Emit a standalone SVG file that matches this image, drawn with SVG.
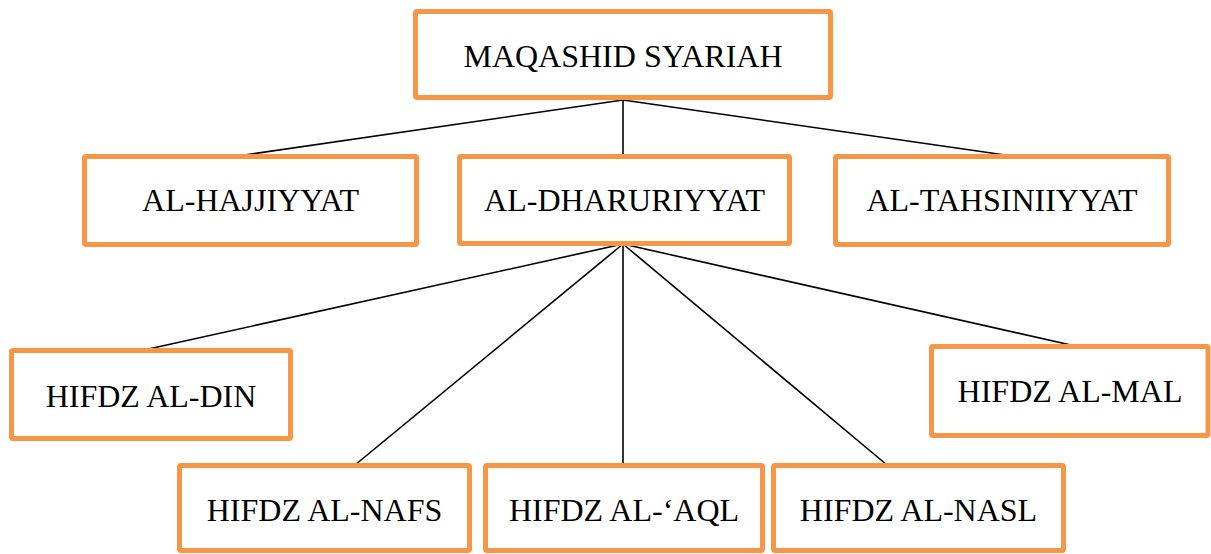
<svg xmlns="http://www.w3.org/2000/svg" width="1211" height="554" viewBox="0 0 1211 554">
<style>
.box{fill:#fff;stroke:#F79646;stroke-width:5}
.lbl{font-family:"Liberation Serif","Times New Roman",serif;font-size:32px;fill:#000;text-anchor:middle}
.con{stroke:#000;stroke-width:1.6;fill:none}
</style>
<rect width="1211" height="554" fill="#fff"/>
<g id="connectors">
<line class="con" x1="623" y1="100" x2="238" y2="156"/>
<line class="con" x1="623" y1="100" x2="623" y2="155"/>
<line class="con" x1="623" y1="100" x2="1012" y2="156"/>
<line class="con" x1="623" y1="244" x2="144" y2="350"/>
<line class="con" x1="623" y1="244" x2="355" y2="465"/>
<line class="con" x1="623" y1="244" x2="623" y2="465"/>
<line class="con" x1="623" y1="244" x2="887" y2="465"/>
<line class="con" x1="623" y1="244" x2="1084" y2="348"/>
</g>
<g id="maqashid">
<rect class="box" x="415.5" y="11.5" width="415" height="86" rx="1.5"/>
<text class="lbl" x="623" y="67">MAQASHID SYARIAH</text>
</g>
<g id="hajjiyyat">
<rect class="box" x="84.5" y="156.5" width="332" height="88" rx="1.5"/>
<text class="lbl" x="250.5" y="211">AL-HAJJIYYAT</text>
</g>
<g id="dharuriyyat">
<rect class="box" x="459.5" y="156.5" width="330" height="87" rx="1.5"/>
<text class="lbl" x="624.5" y="211">AL-DHARURIYYAT</text>
</g>
<g id="tahsiniiyyat">
<rect class="box" x="835.5" y="156.5" width="333" height="88" rx="1.5"/>
<text class="lbl" x="1002" y="211">AL-TAHSINIIYYAT</text>
</g>
<g id="din">
<rect class="box" x="11.5" y="350.5" width="279" height="88" rx="1.5"/>
<text class="lbl" x="151" y="407">HIFDZ AL-DIN</text>
</g>
<g id="mal">
<rect class="box" x="931.5" y="346.5" width="276.5" height="89" rx="1.5"/>
<text class="lbl" x="1070" y="402">HIFDZ AL-MAL</text>
</g>
<g id="nafs">
<rect class="box" x="179.5" y="465.5" width="290" height="85" rx="1.5"/>
<text class="lbl" x="324.5" y="521">HIFDZ AL-NAFS</text>
</g>
<g id="aql">
<rect class="box" x="485.5" y="465.5" width="277" height="85" rx="1.5"/>
<text class="lbl" x="624" y="521">HIFDZ AL-‘AQL</text>
</g>
<g id="nasl">
<rect class="box" x="773.5" y="465.5" width="290" height="85" rx="1.5"/>
<text class="lbl" x="918.5" y="521">HIFDZ AL-NASL</text>
</g>
</svg>
